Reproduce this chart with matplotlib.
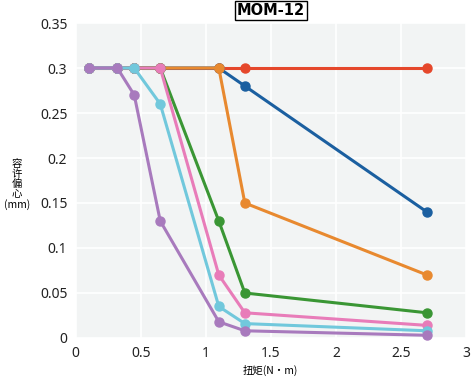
import matplotlib.pyplot as plt

plt.rcParams['font.family'] = ['Noto Sans CJK SC', 'DejaVu Sans']

# 扭矩 (N·m)
x = [0.1, 0.32, 0.45, 0.65, 1.1, 1.3, 2.7]

# 容许偏心 (mm), one list per curve
red = [0.3, 0.3, 0.3, 0.3, 0.3, 0.3, 0.3]
blue = [0.3, 0.3, 0.3, 0.3, 0.3, 0.28, 0.14]
orange = [0.3, 0.3, 0.3, 0.3, 0.3, 0.15, 0.07]
green = [0.3, 0.3, 0.3, 0.3, 0.13, 0.05, 0.028]
pink = [0.3, 0.3, 0.3, 0.3, 0.07, 0.028, 0.014]
cyan = [0.3, 0.3, 0.3, 0.26, 0.035, 0.016, 0.008]
purple = [0.3, 0.3, 0.27, 0.13, 0.018, 0.008, 0.003]

series = [
    (red, '#e5472b'),
    (blue, '#1b5fa0'),
    (orange, '#e8892f'),
    (green, '#3a9634'),
    (pink, '#e87cb9'),
    (cyan, '#71c8dc'),
    (purple, '#a87abd'),
]

xticks = [0, 0.5, 1, 1.5, 2, 2.5, 3]
yticks = [0, 0.05, 0.1, 0.15, 0.2, 0.25, 0.3, 0.35]

fig = plt.figure(figsize=(4.71, 3.81), dpi=100)
ax = fig.add_axes([0.1607, 0.1129, 0.8287, 0.8267])
ax.set_facecolor('#f2f4f4')

for ys, col in series:
    ax.plot(x, ys, color=col, lw=2.2, marker='o', ms=6.5, clip_on=False)

ax.set_xlim(0, 3)
ax.set_ylim(0, 0.35)
ax.set_xticks(xticks)
ax.set_xticklabels([f'{t:g}' for t in xticks])
ax.set_yticks(yticks)
ax.set_yticklabels([f'{t:g}' for t in yticks])
ax.grid(True, color='white', lw=1.2)
ax.set_axisbelow(True)
for s in ax.spines.values():
    s.set_visible(False)
ax.tick_params(length=0, labelsize=10, colors='#222222', pad=6)
for lab in ax.get_xticklabels() + ax.get_yticklabels():
    lab.set_family('Noto Sans')

fig.text(0.575, 0.972, 'MOM-12', ha='center', va='center', fontsize=10.5,
         fontweight='bold', family='DejaVu Sans',
         bbox=dict(boxstyle='square,pad=0.12', fc='white', ec='black', lw=1))

fig.text(0.573, 0.028, '扭矩(N·m)', ha='center', va='center', fontsize=7.5)
fig.text(0.036, 0.515, '容\n许\n偏\n心\n(mm)', ha='center', va='center',
         fontsize=7.5, linespacing=1.0)

fig.savefig('out.png', dpi=100)
